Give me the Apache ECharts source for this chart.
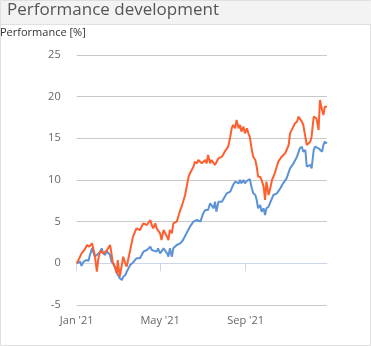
<!DOCTYPE html>
<html>
<head>
<meta charset="utf-8">
<script src="https://cdn.jsdelivr.net/npm/echarts@6/dist/echarts.min.js"></script>
<style>
html,body{margin:0;padding:0;background:#fff;}
#chart{width:371px;height:346px;}
</style>
</head>
<body>
<div id="chart"></div>
<script>
// Days since 1 Jan 2021 and values (%)
const orangeDays = [0,2,7,9,11,15,18,22,24,26,29,31,34,38,43,48,50,52,55,58,59,62,67,69,72,77,81,86,91,96,101,106,108,110,113,115,120,122,125,130,132,134,137,139,144,149,151,156,161,163,168,170,173,175,180,185,187,189,192,194,199,204,209,213,218,221,223,225,228,230,233,235,237,240,242,245,247,249,252,254,257,259,261,264,266,269,271,273,276,278,281,285,290,295,300,305,307,309,314,317,319,321,324,326,329,331,333,336,338,341,343,345,348,350,353,355,357,360];
const orangeValues = [0,0.3,1.2,1.0,1.6,2.2,2.0,2.4,2.3,1.0,-1.0,0.5,1.5,1.2,1.5,2.2,1.2,0,-0.4,-1.2,0.4,-1.6,0.8,0.2,-0.4,1.6,3.2,4.2,4.0,4.8,4.6,5.2,4.6,4.2,4.8,4.2,3.6,2.8,4.0,3.2,2.8,4.0,3.6,4.8,5.0,6.4,6.8,8.2,10.4,10.8,11.6,12.2,12.0,12.4,12.0,12.4,12.0,13.0,12.0,12.4,11.8,12.6,12.8,13.4,14.0,15.2,16.2,16.6,16.2,17.2,16.2,16.6,15.8,16.4,15.6,16.2,15.6,15.2,13.6,12.8,12.4,11.6,10.4,10.4,10.0,9.2,7.6,9.8,8.2,8.8,10.0,10.8,12.2,12.8,13.2,14.2,15.6,15.8,16.8,17.0,17.6,17.8,17.0,16.6,15.2,14.2,14.0,14.6,15.2,17.6,17.8,17.4,16.0,19.6,18.4,17.8,18.8,18.8];
const blueDays = [0,2,5,7,10,12,14,17,19,22,24,26,29,31,34,36,38,41,43,45,48,50,53,55,58,60,62,65,67,70,72,74,77,79,81,86,91,96,101,106,108,110,115,117,120,125,127,130,132,134,137,139,144,149,153,158,163,168,173,178,180,182,185,187,189,192,194,197,199,201,204,209,211,213,216,218,221,223,225,228,230,233,235,237,240,242,245,247,249,252,254,257,259,261,264,266,269,271,273,276,278,283,288,293,297,302,307,312,317,321,324,326,329,331,333,336,338,341,343,345,348,350,353,355,357,360];
const blueValues = [0,-0.2,0.2,-0.3,0.2,0,0.4,0.3,1.0,1.8,2.0,0.8,1.0,0.8,1.4,1.8,1.2,1.0,1.5,1.6,1.0,0.2,0.0,-0.2,-1.2,-1.4,-1.8,-2.0,-1.6,-1.4,-1.0,-0.8,-0.2,-0.2,0.1,0.6,0.6,1.4,1.6,2.0,1.6,1.8,1.4,1.8,1.2,1.8,1.6,1.2,0.8,1.8,0.8,1.8,2.2,2.4,2.8,3.6,4.4,5.0,5.2,5.0,5.2,6.0,6.4,6.6,6.4,7.2,7.0,6.6,7.4,6.2,7.4,7.4,7.6,8.0,8.4,8.2,8.6,8.8,9.4,9.8,9.8,9.6,10.0,9.6,10.0,9.6,9.9,10.0,10.1,9.0,8.4,8.2,7.6,6.6,7.0,6.2,6.6,5.8,6.6,6.8,7.2,8.2,8.4,9.0,9.6,10.2,11.4,12.0,12.8,13.8,14.0,13.4,13.6,11.6,11.4,11.8,11.4,13.6,14.0,14.2,13.8,14.0,13.4,14.2,14.6,14.4];
const yTicks = [-5,0,5,10,15,20,25];
const xTickDays = [0,120,243]; // Jan 1, May 1, Sep 1
const xMaxDay = 360;
const monthNames = ["Jan","Feb","Mar","Apr","May","Jun","Jul","Aug","Sep","Oct","Nov","Dec"];

const base = Date.UTC(2021,0,1);
const DAY = 86400000;
const ts = d => base + d*DAY;
const orangeData = orangeDays.map((d,i)=>[ts(d), orangeValues[i]]);
const blueData = blueDays.map((d,i)=>[ts(d), blueValues[i]]);
const xTicks = xTickDays.map(ts);

const chart = echarts.init(document.getElementById('chart'));
const font = '"Open Sans", "Noto Sans", sans-serif';
chart.setOption({
  animation:false,
  textStyle:{fontFamily:font},
  graphic:[
    {type:'rect', shape:{x:0.5,y:0.5,width:370,height:345}, style:{fill:'#fff',stroke:'#e0e0e0',lineWidth:1}, z:-10, silent:true},
    {type:'rect', shape:{x:1,y:1,width:370,height:23}, style:{fill:'#f3f3f3'}, z:-9, silent:true},
    {type:'line', shape:{x1:1,y1:24.5,x2:371,y2:24.5}, style:{stroke:'#e0e0e0',lineWidth:1}, z:-9, silent:true},
    {type:'text', left:0, top:27, style:{text:'Performance [%]', fill:'#333', font:'11px ' + font}}
  ],
  title:{text:'Performance development', left:4, top:0, padding:[2,3],
    textStyle:{fontSize:17, fontWeight:'normal', color:'#555', fontFamily:font}},
  grid:{left:76.7, right:44.1, top:55, bottom:41, containLabel:false},
  xAxis:{type:'value', min:ts(0), max:ts(xMaxDay),
    axisLine:{show:true, lineStyle:{color:'#ccd6eb', width:1}},
    axisTick:{show:true, customValues:xTicks, length:8, lineStyle:{color:'#ccd6eb'}},
    axisLabel:{customValues:xTicks, color:'#666', fontSize:11, margin:10, fontFamily:font,
      formatter: v => { const d=new Date(v); return monthNames[d.getUTCMonth()] + " '" + String(d.getUTCFullYear()).slice(2); }},
    splitLine:{show:false}},
  yAxis:{type:'value', min:yTicks[0], max:yTicks[yTicks.length-1], interval:5,
    axisLine:{show:false}, axisTick:{show:false},
    axisLabel:{color:'#666', fontSize:11, margin:16, fontFamily:font},
    splitLine:{lineStyle:{color:'#c8c8c8', width:1}}},
  series:[
    {type:'line', data:blueData, showSymbol:false, lineStyle:{color:'#5b93d6', width:2}, itemStyle:{color:'#5b93d6'}},
    {type:'line', data:orangeData, showSymbol:false, lineStyle:{color:'#ff5f2e', width:2}, itemStyle:{color:'#ff5f2e'}}
  ]
});
</script>
</body>
</html>
